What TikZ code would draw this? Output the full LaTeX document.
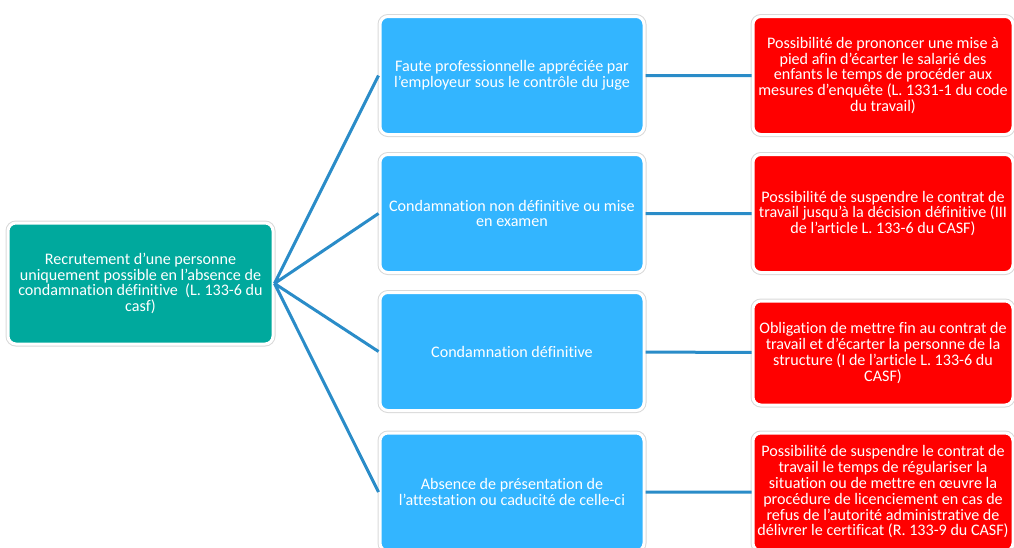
\documentclass[tikz,border=0pt]{standalone}
\usepackage{fontspec}
\setmainfont{Carlito}[Ligatures=NoCommon]
\usetikzlibrary{positioning}
\definecolor{tealbox}{HTML}{00A99D}
\definecolor{bluebox}{HTML}{33B5FF}
\definecolor{redbox}{HTML}{FF0000}
\definecolor{lienbleu}{HTML}{2A8CC8}
\begin{document}
\begin{tikzpicture}[x=1pt,y=-1pt,
box/.style={rounded corners=8pt,draw=white,line width=3pt,
preaction={draw=black!15,line width=5pt},text=white,align=center,
minimum height=118pt,inner sep=2pt,font=\fontsize{16.1}{15.8}\selectfont},
racine/.style={box,fill=tealbox,minimum width=265pt,minimum height=121pt},
cas/.style={box,fill=bluebox,minimum width=264pt},
suite/.style={box,fill=redbox,minimum width=260pt},
lien/.style={draw=lienbleu,line width=3pt}]
\useasboundingbox (0,0) rectangle (1014,547);
\node[racine] (recrut) at (140.5,283.5) {Recrutement d’une personne\\uniquement possible en l’absence de\\condamnation définitive~ (L. 133-6 du\\casf)};
\node[cas] (faute) at (512,75.5) {Faute professionnelle appréciée par\\l’employeur sous le contrôle du juge};
\node[cas] (nondef) at (512,213.5) {Condamnation non définitive ou mise\\en examen};
\node[cas] (def) at (512,351.5) {Condamnation définitive};
\node[cas] (absence) at (512,492) {Absence de présentation de\\l’attestation ou caducité de celle-ci};
\node[suite] (miseapied) at (883,75.5) {Possibilité de prononcer une mise à\\pied afin d’écarter le salarié des\\enfants le temps de procéder aux\\mesures d’enquête (L. 1331-1 du code\\du travail)};
\node[suite] (suspend) at (883,213.5) {Possibilité de suspendre le contrat de\\travail jusqu’à la décision définitive (III\\de l’article L. 133-6 du CASF)};
\node[suite,minimum height=104pt] (finctr) at (883,353) {Obligation de mettre fin au contrat de\\travail et d’écarter la personne de la\\structure (I de l’article L. 133-6 du\\CASF)};
\node[suite] (regul) at (883,492) {Possibilité de suspendre le contrat de\\travail le temps de régulariser la\\situation ou de mettre en œuvre la\\procédure de licenciement en cas de\\refus de l’autorité administrative de\\délivrer le certificat (R. 133-9 du CASF)};
\draw[lien] (recrut.east)--(faute.west) (recrut.east)--(nondef.west)
(recrut.east)--(def.west) (recrut.east)--(absence.west);
\draw[lien] (faute)--(miseapied) (nondef)--(suspend) (def)--(finctr)
(absence)--(regul);
\end{tikzpicture}
\end{document}
